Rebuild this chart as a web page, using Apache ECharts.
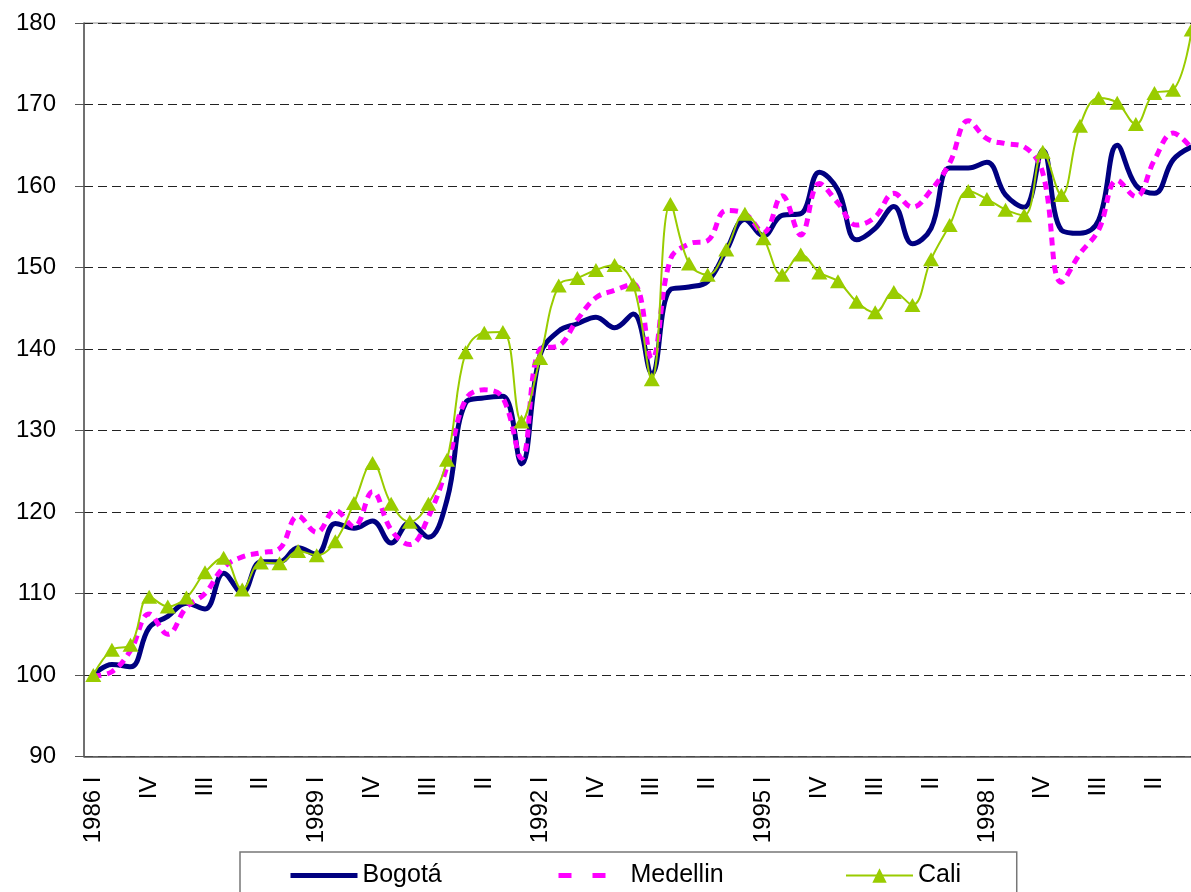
<!DOCTYPE html>
<html>
<head>
<meta charset="utf-8">
<title>Bogotá, Medellin, Cali</title>
<script src="https://cdn.jsdelivr.net/npm/echarts@6/dist/echarts.min.js"></script>
<style>
  html, body { margin: 0; padding: 0; background: #fff; }
  #chart { width: 1191px; height: 892px; }
</style>
</head>
<body>
<div id="chart"></div>
<script>
// quarters 1986 I .. 2000 IV, year only shown on quarter I
const years = [1986, 1987, 1988, 1989, 1990, 1991, 1992, 1993, 1994, 1995, 1996, 1997, 1998, 1999, 2000];
const quarters = ['I', 'II', 'III', 'IV'];

const bogota = [
  100.0, 101.3, 101.0, 105.8, 107.2, 108.8, 108.1, 112.5, 110.1, 113.9,
  113.9, 115.6, 114.8, 118.6, 118.0, 118.9, 116.2, 118.7, 116.9, 121.5,
  133.4, 134.0, 134.2, 125.9, 139.3, 142.2, 143.1, 143.9, 142.6, 144.3,
  137.0, 147.3, 147.6, 148.3, 152.1, 155.9, 153.9, 156.4, 156.6, 161.7,
  159.5, 153.4, 154.8, 157.5, 152.9, 154.8, 162.2, 162.2, 162.9, 158.9,
  157.4, 164.4, 154.6, 154.2, 155.8, 165.0, 160.1, 159.1, 163.2, 164.8
];
const medellin = [
  99.9, 100.4, 103.0, 107.5, 105.0, 108.3, 110.0, 113.2, 114.5, 115.0,
  115.5, 119.5, 117.5, 120.2, 118.2, 122.5, 117.8, 116.0, 119.4, 125.6,
  133.8, 135.0, 134.0, 126.6, 140.0, 140.4, 143.6, 146.3, 147.2, 148.0,
  138.8, 151.0, 152.9, 153.3, 157.0, 156.6, 154.3, 158.8, 154.0, 160.3,
  157.9, 155.2, 156.2, 159.1, 157.4, 159.5, 162.8, 168.0, 165.8, 165.2,
  164.8, 161.6, 148.2, 151.7, 154.6, 160.7, 158.7, 163.2, 166.5, 164.6
];
const cali = [
  100.0, 103.1, 103.7, 109.6, 108.4, 109.5, 112.6, 114.4, 110.5, 113.8,
  113.7, 115.2, 114.7, 116.4, 121.1, 126.0, 121.0, 118.8, 121.0, 126.4,
  139.6, 142.0, 142.1, 131.1, 138.9, 147.8, 148.7, 149.7, 150.3, 147.9,
  136.3, 157.8, 150.5, 149.1, 152.2, 156.6, 153.6, 149.1, 151.6, 149.4,
  148.3, 145.8, 144.5, 147.0, 145.4, 151.0, 155.2, 159.4, 158.4, 157.1,
  156.4, 164.2, 158.9, 167.4, 170.8, 170.2, 167.6, 171.4, 171.8, 179.2
];

const categories = [];
years.forEach(y => {
  quarters.forEach(q => categories.push(q === 'I' ? y + ' I' : q));
});

const FONT = '"Liberation Sans", Arial, sans-serif';
const NAVY = '#000080', MAGENTA = '#ff00ff', LIME = '#99cc00';

// one legend per entry so each can sit where the original puts it;
// the first one also draws the frame round all three
const legendBase = {
  itemWidth: 67, itemHeight: 18,
  textStyle: { fontSize: 25, color: '#000', fontFamily: FONT }
};
const legends = [
  Object.assign({}, legendBase, {
    data: [{ name: 'Bogotá', lineStyle: { width: 5 }, itemStyle: { opacity: 0 } }],
    left: 240, top: 852, padding: [11, 575, 30, 48],
    borderColor: '#777', borderWidth: 1.5
  }),
  Object.assign({}, legendBase, {
    data: [{ name: 'Medellin', lineStyle: { width: 5, type: [13, 21] }, itemStyle: { opacity: 0 } }],
    left: 556, top: 863, padding: 0
  }),
  Object.assign({}, legendBase, {
    data: [{ name: 'Cali', lineStyle: { width: 2 } }],
    left: 845, top: 863, padding: 0
  })
];

const chart = echarts.init(document.getElementById('chart'));
chart.setOption({
  animation: false,
  backgroundColor: '#fff',
  textStyle: { fontFamily: FONT },
  grid: {
    left: 84, top: 23, width: 1117, height: 733.5,
    show: true, borderColor: '#8a8a8a', borderWidth: 1,
    outerBoundsMode: 'none'
  },
  legend: legends,
  xAxis: {
    type: 'category',
    data: categories,
    boundaryGap: true,
    axisLine: { lineStyle: { color: '#555', width: 1.5 } },
    axisTick: { interval: 0, length: 7, lineStyle: { color: '#555' } },
    axisLabel: { interval: 2, rotate: 90, margin: 20, fontSize: 24, color: '#000', fontFamily: FONT },
    splitLine: { show: false }
  },
  yAxis: {
    type: 'value',
    min: 90, max: 180, interval: 10,
    axisLine: { show: true, lineStyle: { color: '#555', width: 1.5 } },
    axisTick: { show: true, length: 9, lineStyle: { color: '#555' } },
    axisLabel: { margin: 28, fontSize: 24, color: '#000', fontFamily: FONT },
    splitLine: { lineStyle: { color: '#222', width: 1, type: [9, 5] } }
  },
  series: [
    {
      name: 'Bogotá', type: 'line', data: bogota, smooth: 0.4,
      symbol: 'none',
      lineStyle: { color: NAVY, width: 5 },
      itemStyle: { color: NAVY }
    },
    {
      name: 'Medellin', type: 'line', data: medellin, smooth: 0.4,
      symbol: 'none',
      lineStyle: { color: MAGENTA, width: 5, type: [8, 6] },
      itemStyle: { color: MAGENTA }
    },
    {
      name: 'Cali', type: 'line', data: cali, smooth: 0.4,
      symbol: 'triangle', symbolSize: [16, 14], showAllSymbol: true,
      lineStyle: { color: LIME, width: 2 },
      itemStyle: { color: LIME }
    }
  ]
});
window.onresize = () => chart.resize();
</script>
</body>
</html>
